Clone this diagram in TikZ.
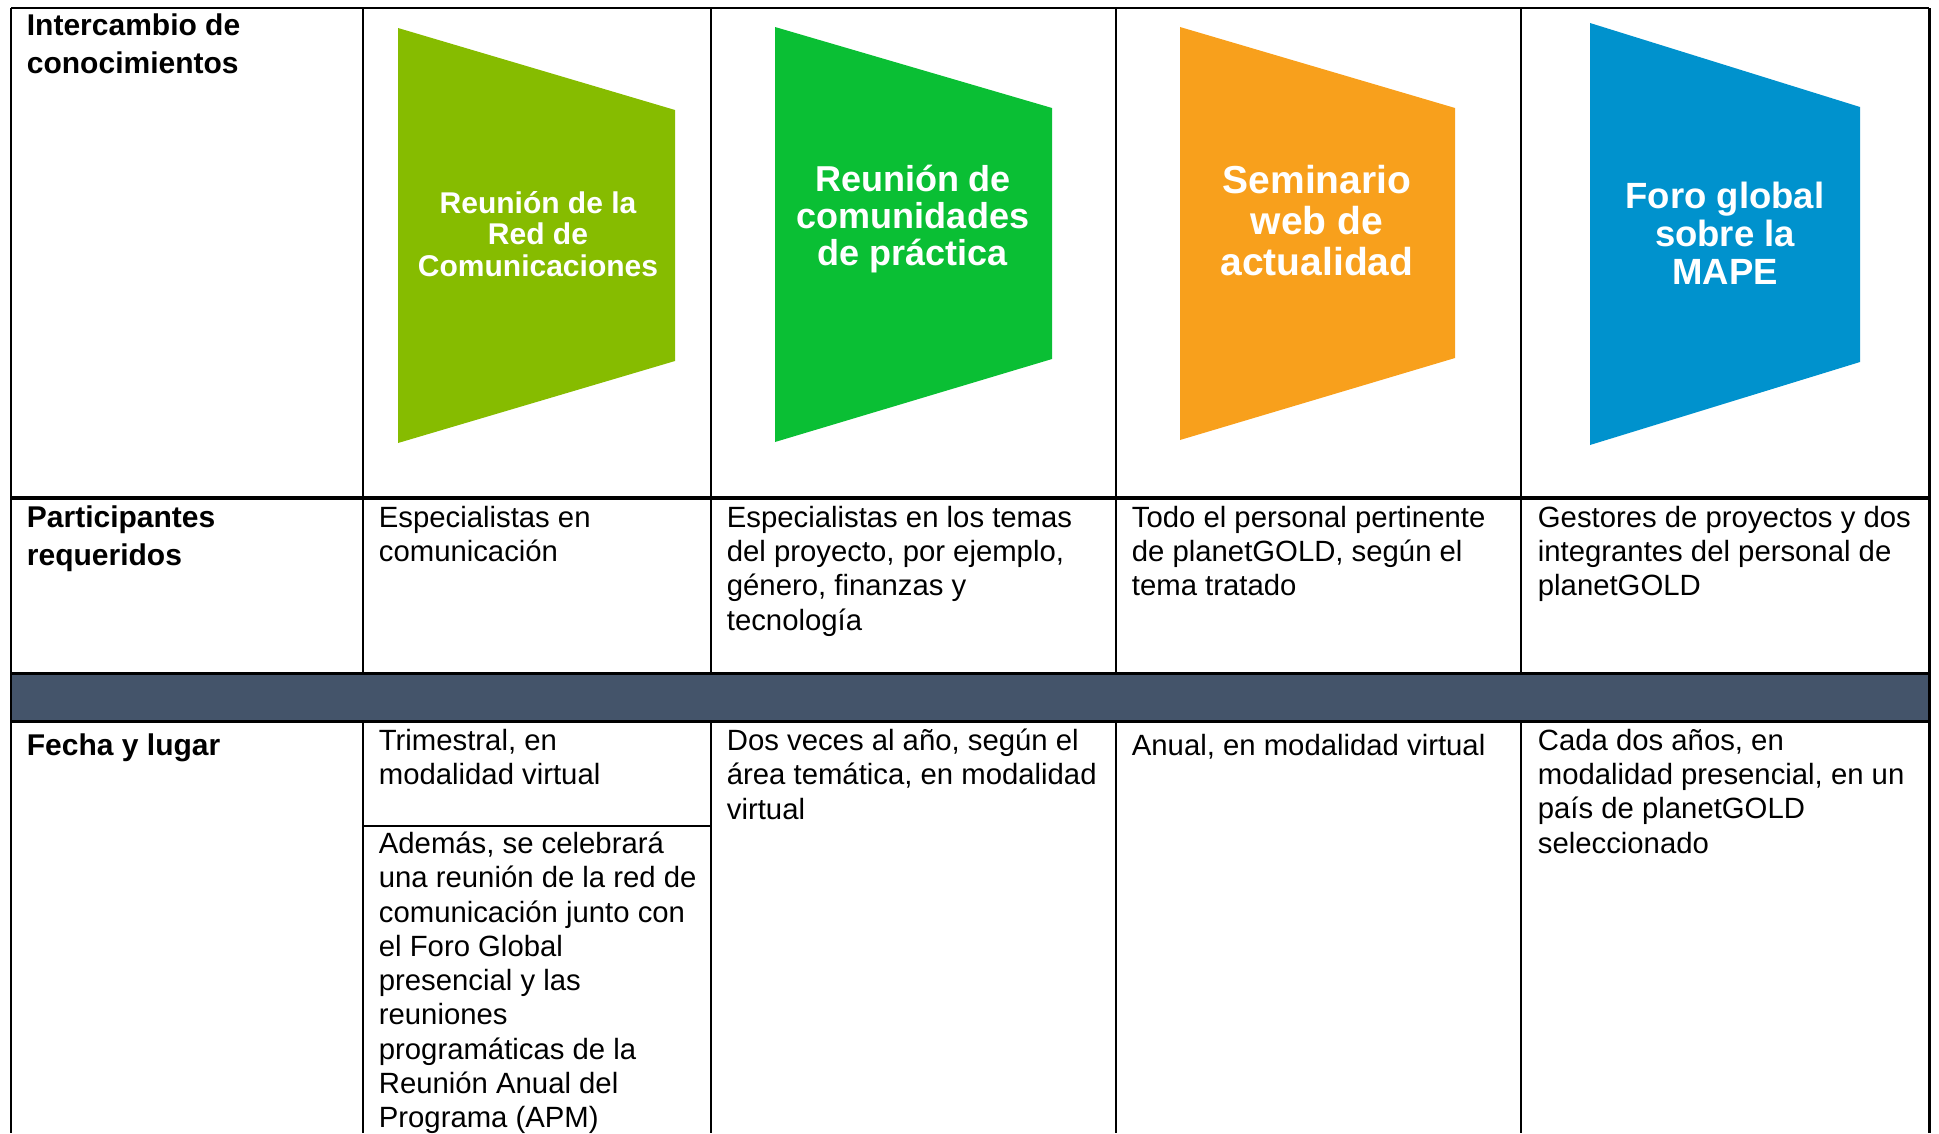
\documentclass[tikz,border=0pt]{standalone}
\usepackage{fontspec}
\setmainfont{Liberation Sans}
\usepackage{tikz}
\usetikzlibrary{positioning}

\definecolor{bandgray}{HTML}{44546A}
\definecolor{redlime}{HTML}{86BC00}
\definecolor{cdpgreen}{HTML}{0ABF34}
\definecolor{weborange}{HTML}{F8A01C}
\definecolor{forumblue}{HTML}{0092CD}

\begin{document}
\begin{tikzpicture}[x=1pt,y=-1pt,line width=1.8pt,
        cell/.style={anchor=north west,align=left,inner sep=0pt,
            font=\fontsize{29.3}{34.3}\selectfont,execute at begin node={\rule{0pt}{27pt}}},
        head/.style={cell,font=\fontsize{30}{38}\selectfont\bfseries},
        tag/.style={align=center,inner sep=0pt,text=white}]
        \useasboundingbox (0,0) rectangle (1939,1133);
        % shapes of the first row
        \fill[redlime] (398,28) -- (675,110) -- (675,361) -- (398,443) -- cycle;
        \fill[cdpgreen] (775,27) -- (1052,108) -- (1052,359) -- (775,442) -- cycle;
        \fill[weborange] (1180,27) -- (1455,108) -- (1455,358) -- (1180,440) -- cycle;
        \fill[forumblue] (1590,23) -- (1860,107) -- (1860,362) -- (1590,445) -- cycle;
        \node[tag,font=\fontsize{30}{31.5}\selectfont\bfseries] (redcom) at (538,234) {Reunión de la\\Red de\\Comunicaciones};
        \node[tag,font=\fontsize{36}{37}\selectfont\bfseries] (cdp) at (913,219) {Reunión de\\comunidades\\de práctica};
        \node[tag,font=\fontsize{39}{41}\selectfont\bfseries] (webinar) at (1317,221) {Seminario\\web de\\actualidad};
        \node[tag,font=\fontsize{36.5}{38}\selectfont\bfseries] (foro) at (1725,233) {Foro global\\sobre la\\MAPE};
        % grid
        \fill[bandgray] (11,673) rectangle (1929,721);
        \draw (11,8) -- (1929,8);
        \draw (11,8) -- (11,1133);
        \draw[line width=3pt] (1929,8) -- (1929,1133);
        \foreach \x in {363,711,1116,1521}{
            \draw (\x,8) -- (\x,673);
            \draw (\x,721) -- (\x,1133);
        }
        \draw[line width=4.5pt] (11,498) -- (1929,498);
        \draw[line width=3pt] (11,673) -- (1929,673);
        \draw[line width=3pt] (11,721) -- (1929,721);
        \draw (363,826) -- (711,826);
        % row headers
        \node[head] (intercambio) at (26,13) {Intercambio de\\conocimientos};
        \node[head] (participantes) at (26,505) {Participantes\\requeridos};
        \node[head] (fecha) at (26,728) {Fecha y lugar};
        % participants
        \node[cell] (partred) at (378,505) {Especialistas en\\comunicación};
        \node[cell] (partcdp) at (726,505) {Especialistas en los temas\\del proyecto, por ejemplo,\\género, finanzas y\\tecnología};
        \node[cell] (partweb) at (1131,505) {Todo el personal pertinente\\de planetGOLD, según el\\tema tratado};
        \node[cell] (partforo) at (1537,505) {Gestores de proyectos y dos\\integrantes del personal de\\planetGOLD};
        % date and place
        \node[cell] (fechared) at (378,728) {Trimestral, en\\modalidad virtual};
        \node[cell] (fechaextra) at (378,831) {Además, se celebrará\\una reunión de la red de\\comunicación junto con\\el Foro Global\\presencial y las\\reuniones\\programáticas de la\\Reunión Anual del\\Programa (APM)};
        \node[cell] (fechacdp) at (726,728) {Dos veces al año, según el\\área temática, en modalidad\\virtual};
        \node[cell] (fechaweb) at (1131,728) {Anual, en modalidad virtual};
        \node[cell] (fechaforo) at (1537,728) {Cada dos años, en\\modalidad presencial, en un\\país de planetGOLD\\seleccionado};
\end{tikzpicture}
\end{document}
